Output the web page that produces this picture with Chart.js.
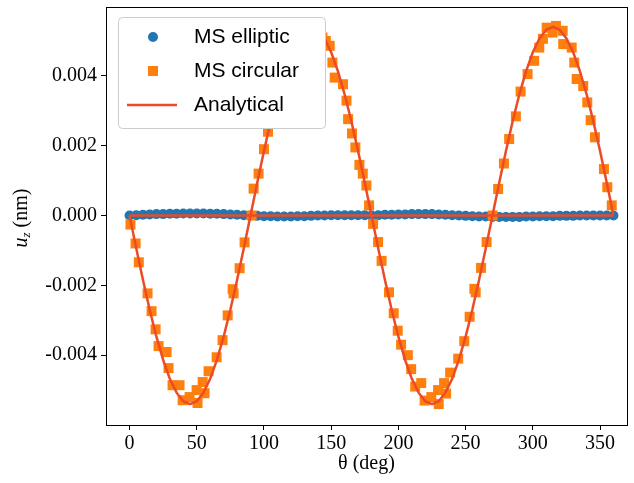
<!DOCTYPE html>
<html>
<head>
<meta charset="utf-8">
<script src="https://cdn.jsdelivr.net/npm/chart.js@4.4.1/dist/chart.umd.min.js"></script>
<style>
  html, body { margin: 0; padding: 0; background: #fff; }
  #wrap { width: 634px; height: 483px; }
</style>
</head>
<body>
<div id="wrap"><canvas id="c" width="634" height="483"></canvas></div>
<script>
// ---- Data ----
const seriesNames = ['MS elliptic', 'MS circular', 'Analytical'];

const thetaEllip = [0,5,10,15,20,25,30,35,40,45,50,55,60,65,70,75,80,85,90,95,100,105,110,115,120,125,130,135,140,145,150,155,160,165,170,175,180,185,190,195,200,205,210,215,220,225,230,235,240,245,250,255,260,265,270,275,280,285,290,295,300,305,310,315,320,325,330,335,340,345,350,355,360];
const uEllip = [0,0.00001,0.00002,0.00003,0.00004,0.00004,0.00005,0.00005,0.00006,0.00006,0.00006,0.00006,0.00005,0.00005,0.00004,0.00003,0.00002,0.00001,0,-0.00001,-0.00002,-0.00002,-0.00003,-0.00003,-0.00003,-0.00002,-0.00002,-0.00001,0,0,0.00001,0.00001,0.00001,0.00001,0.00001,0.00001,0,0.00001,0.00002,0.00002,0.00003,0.00003,0.00004,0.00004,0.00004,0.00004,0.00003,0.00002,0.00001,0,-0.00001,-0.00002,-0.00003,-0.00003,-0.00004,-0.00004,-0.00004,-0.00004,-0.00004,-0.00003,-0.00003,-0.00002,-0.00002,-0.00002,-0.00001,-0.00001,-0.00001,0,0,0,0,0,0];

const thetaCirc = [0.7,4.5,6.9,13.4,16.4,19.4,21.6,27.6,29.0,32.0,37.2,39.5,44.7,50.6,49.9,55.8,54.4,58.8,64.8,69.2,73.0,77.4,76.7,81.9,85.6,90.8,
  92.3,96.0,100.0,103.0,106.5,109.0,113.0,116.0,119.5,122.0,126.5,129.0,133.5,136.0,140.0,143.5,146.0,148.9,150.9,152.6,158.8,161.4,162.6,165.5,168.0,171.0,173.5,176.2,178.2,
  181.2,184.9,187.5,193.0,196.5,199.5,202.0,207.0,209.5,212.5,217.0,219.5,224.5,230.0,229.5,235.5,234.0,238.5,244.5,249.0,253.0,257.5,256.5,261.5,265.6,270.1,
  274.2,278.5,282.4,287.4,290.9,296.1,301.0,304.8,307.5,310.3,314.7,317.2,322.2,322.6,328.9,330.8,332.6,337.5,340.5,343.0,346.2,352.9,355.4,358.7];
const uCirc = [-0.00026,-0.0008,-0.00134,-0.00223,-0.00274,-0.00326,-0.00374,-0.00391,-0.00437,-0.00486,-0.00486,-0.00529,-0.0052,-0.00537,-0.005,-0.00509,-0.00477,-0.00446,-0.00406,-0.00357,-0.00286,-0.00223,-0.00211,-0.00151,-0.00077,0.0,
  0.00077,0.0012,0.0019,0.0024,0.0029,0.0034,0.0038,0.0043,0.0046,0.0050,0.0051,0.0053,0.0052,0.0054,0.0053,0.0051,0.0050,0.00486,0.00438,0.00395,0.00376,0.00329,0.00276,0.00235,0.00195,0.00145,0.0012,0.00086,0.00029,
  -0.00024,-0.00076,-0.0013,-0.0022,-0.0028,-0.0033,-0.0037,-0.0040,-0.0044,-0.0049,-0.0048,-0.0053,-0.0052,-0.0054,-0.0050,-0.0051,-0.0048,-0.0045,-0.0041,-0.0036,-0.0029,-0.0022,-0.0021,-0.0015,-0.00076,0.0,
  0.00076,0.00149,0.00219,0.00284,0.00355,0.00405,0.00443,0.00481,0.00506,0.00538,0.00524,0.00543,0.00529,0.00491,0.00481,0.00438,0.00391,0.00371,0.00324,0.00273,0.00224,0.00133,0.00081,0.00029];

const thetaAnal = [0,5,10,15,20,25,30,35,40,45,50,55,60,65,70,75,80,85,90,95,100,105,110,115,120,125,130,135,140,145,150,155,160,165,170,175,180,185,190,195,200,205,210,215,220,225,230,235,240,245,250,255,260,265,270,275,280,285,290,295,300,305,310,315,320,325,330,335,340,345,350,355,360];
const uAnal = [0,-0.000938,-0.001847,-0.0027,-0.003471,-0.004137,-0.004677,-0.005074,-0.005318,-0.0054,-0.005318,-0.005074,-0.004677,-0.004137,-0.003471,-0.0027,-0.001847,-0.000938,
  0,0.000938,0.001847,0.0027,0.003471,0.004137,0.004677,0.005074,0.005318,0.0054,0.005318,0.005074,0.004677,0.004137,0.003471,0.0027,0.001847,0.000938,
  0,-0.000938,-0.001847,-0.0027,-0.003471,-0.004137,-0.004677,-0.005074,-0.005318,-0.0054,-0.005318,-0.005074,-0.004677,-0.004137,-0.003471,-0.0027,-0.001847,-0.000938,
  0,0.000938,0.001847,0.0027,0.003471,0.004137,0.004677,0.005074,0.005318,0.0054,0.005318,0.005074,0.004677,0.004137,0.003471,0.0027,0.001847,0.000938,0];

const thetaAnalEllip = [0, 360];
const uAnalEllip = [0, 0];

const xTicks = [0, 50, 100, 150, 200, 250, 300, 350];
const yTicks = [-0.004, -0.002, 0.000, 0.002, 0.004];
const xTitle = 'θ (deg)';

// ---- Styling ----
const BLUE = '#1f77b4';
const ORANGE = '#ff7f0e';
const RED = '#ee4a26';
const SERIF = '"Liberation Serif", "Times New Roman", serif';
const SANS = '"Liberation Sans", Arial, sans-serif';

const zip = (xs, ys) => xs.map((x, i) => ({ x: x, y: ys[i] }));

function roundedPath(ctx, x, y, w, h, r) {
  ctx.beginPath();
  ctx.moveTo(x + r, y);
  ctx.lineTo(x + w - r, y);
  ctx.arcTo(x + w, y, x + w, y + r, r);
  ctx.lineTo(x + w, y + h - r);
  ctx.arcTo(x + w, y + h, x + w - r, y + h, r);
  ctx.lineTo(x + r, y + h);
  ctx.arcTo(x, y + h, x, y + h - r, r);
  ctx.lineTo(x, y + r);
  ctx.arcTo(x, y, x + r, y, r);
  ctx.closePath();
}

const overlay = {
  id: 'overlay',
  afterDraw(chart) {
    const ctx = chart.ctx;
    const a = chart.chartArea;
    ctx.save();
    ctx.globalAlpha = 1;
    ctx.globalCompositeOperation = 'source-over';
    // axes frame
    ctx.strokeStyle = '#000';
    ctx.lineWidth = 1;
    ctx.strokeRect(Math.round(a.left) + 0.5, Math.round(a.top) + 0.5,
                   Math.round(a.right - a.left), Math.round(a.bottom - a.top));

    // legend box (opaque, hides data beneath)
    roundedPath(ctx, 118.5, 17.5, 207, 111, 4);
    ctx.fillStyle = '#ffffff';
    ctx.fill();
    ctx.strokeStyle = '#cccccc';
    ctx.lineWidth = 1;
    ctx.stroke();

    const rows = [37, 71, 105];
    ctx.fillStyle = BLUE;
    ctx.beginPath();
    ctx.arc(153, rows[0], 5, 0, Math.PI * 2);
    ctx.fill();
    ctx.fillStyle = ORANGE;
    ctx.fillRect(148, rows[1] - 5, 10, 10);
    ctx.strokeStyle = RED;
    ctx.lineWidth = 2.5;
    ctx.beginPath();
    ctx.moveTo(127, rows[2]);
    ctx.lineTo(177, rows[2]);
    ctx.stroke();

    ctx.fillStyle = '#000';
    ctx.font = '21px ' + SANS;
    ctx.textBaseline = 'middle';
    ctx.textAlign = 'left';
    seriesNames.forEach((n, i) => ctx.fillText(n, 194, rows[i]));

    // x title
    ctx.font = '20px ' + SERIF;
    ctx.textAlign = 'center';
    ctx.fillText(xTitle, (a.left + a.right) / 2, 464);

    // y title (rotated) : u_z (nm)
    ctx.translate(22, 218);
    ctx.rotate(-Math.PI / 2);
    ctx.textAlign = 'left';
    const fU = 'italic 20px ' + SERIF;
    const fZ = 'italic 13px ' + SERIF;
    const fR = '20px ' + SERIF;
    ctx.font = fU; const wU = ctx.measureText('u').width;
    ctx.font = fZ; const wZ = ctx.measureText('z').width;
    ctx.font = fR; const wR = ctx.measureText(' (nm)').width;
    let x0 = -(wU + wZ + wR) / 2;
    ctx.font = fU; ctx.fillText('u', x0, 0); x0 += wU;
    ctx.font = fZ; ctx.fillText('z', x0, 5); x0 += wZ;
    ctx.font = fR; ctx.fillText(' (nm)', x0, 0);
    ctx.restore();
  }
};

new Chart(document.getElementById('c'), {
  type: 'scatter',
  data: {
    datasets: [
      {
        label: seriesNames[2],
        type: 'line',
        data: zip(thetaAnal, uAnal),
        borderColor: RED, borderWidth: 2.5, pointRadius: 0, showLine: true,
        fill: false, tension: 0, order: 0
      },
      {
        label: seriesNames[2] + ' (elliptic)',
        type: 'line',
        data: zip(thetaAnalEllip, uAnalEllip),
        borderColor: RED, borderWidth: 2.5, pointRadius: 0, showLine: true,
        fill: false, order: 0
      },
      {
        label: seriesNames[1],
        data: zip(thetaCirc, uCirc),
        pointStyle: 'rect', pointRadius: 7.07, pointHoverRadius: 7.07,
        backgroundColor: ORANGE, borderWidth: 0, order: 1
      },
      {
        label: seriesNames[0],
        data: zip(thetaEllip, uEllip),
        pointStyle: 'circle', pointRadius: 5, pointHoverRadius: 5,
        backgroundColor: BLUE, borderWidth: 0, order: 2
      }
    ]
  },
  options: {
    responsive: false,
    animation: false,
    events: [],
    layout: { padding: { left: 0, right: 7, top: 6, bottom: 0 } },
    plugins: { legend: { display: false }, tooltip: { enabled: false } },
    scales: {
      x: {
        type: 'linear', min: -17.5, max: 370,
        afterBuildTicks: s => { s.ticks = xTicks.map(v => ({ value: v })); },
        afterFit: s => { s.height = 58; s.paddingLeft = 0; s.paddingRight = 0; },
        grid: { display: true, drawOnChartArea: false, drawTicks: true, tickLength: 5, tickColor: '#000', tickWidth: 1 },
        border: { display: false },
        ticks: { color: '#000', padding: 2, maxRotation: 0, font: { family: SERIF, size: 20 },
                 callback: v => String(v) }
      },
      y: {
        type: 'linear', min: -0.006, max: 0.00597,
        afterBuildTicks: s => { s.ticks = yTicks.map(v => ({ value: v })); },
        afterFit: s => { s.width = 106; s.paddingTop = 0; s.paddingBottom = 0; },
        grid: { display: true, drawOnChartArea: false, drawTicks: true, tickLength: 5, tickColor: '#000', tickWidth: 1 },
        border: { display: false },
        ticks: { color: '#000', padding: 4, font: { family: SERIF, size: 20 },
                 callback: v => v.toFixed(3) }
      }
    }
  },
  plugins: [overlay]
});
</script>
</body>
</html>
